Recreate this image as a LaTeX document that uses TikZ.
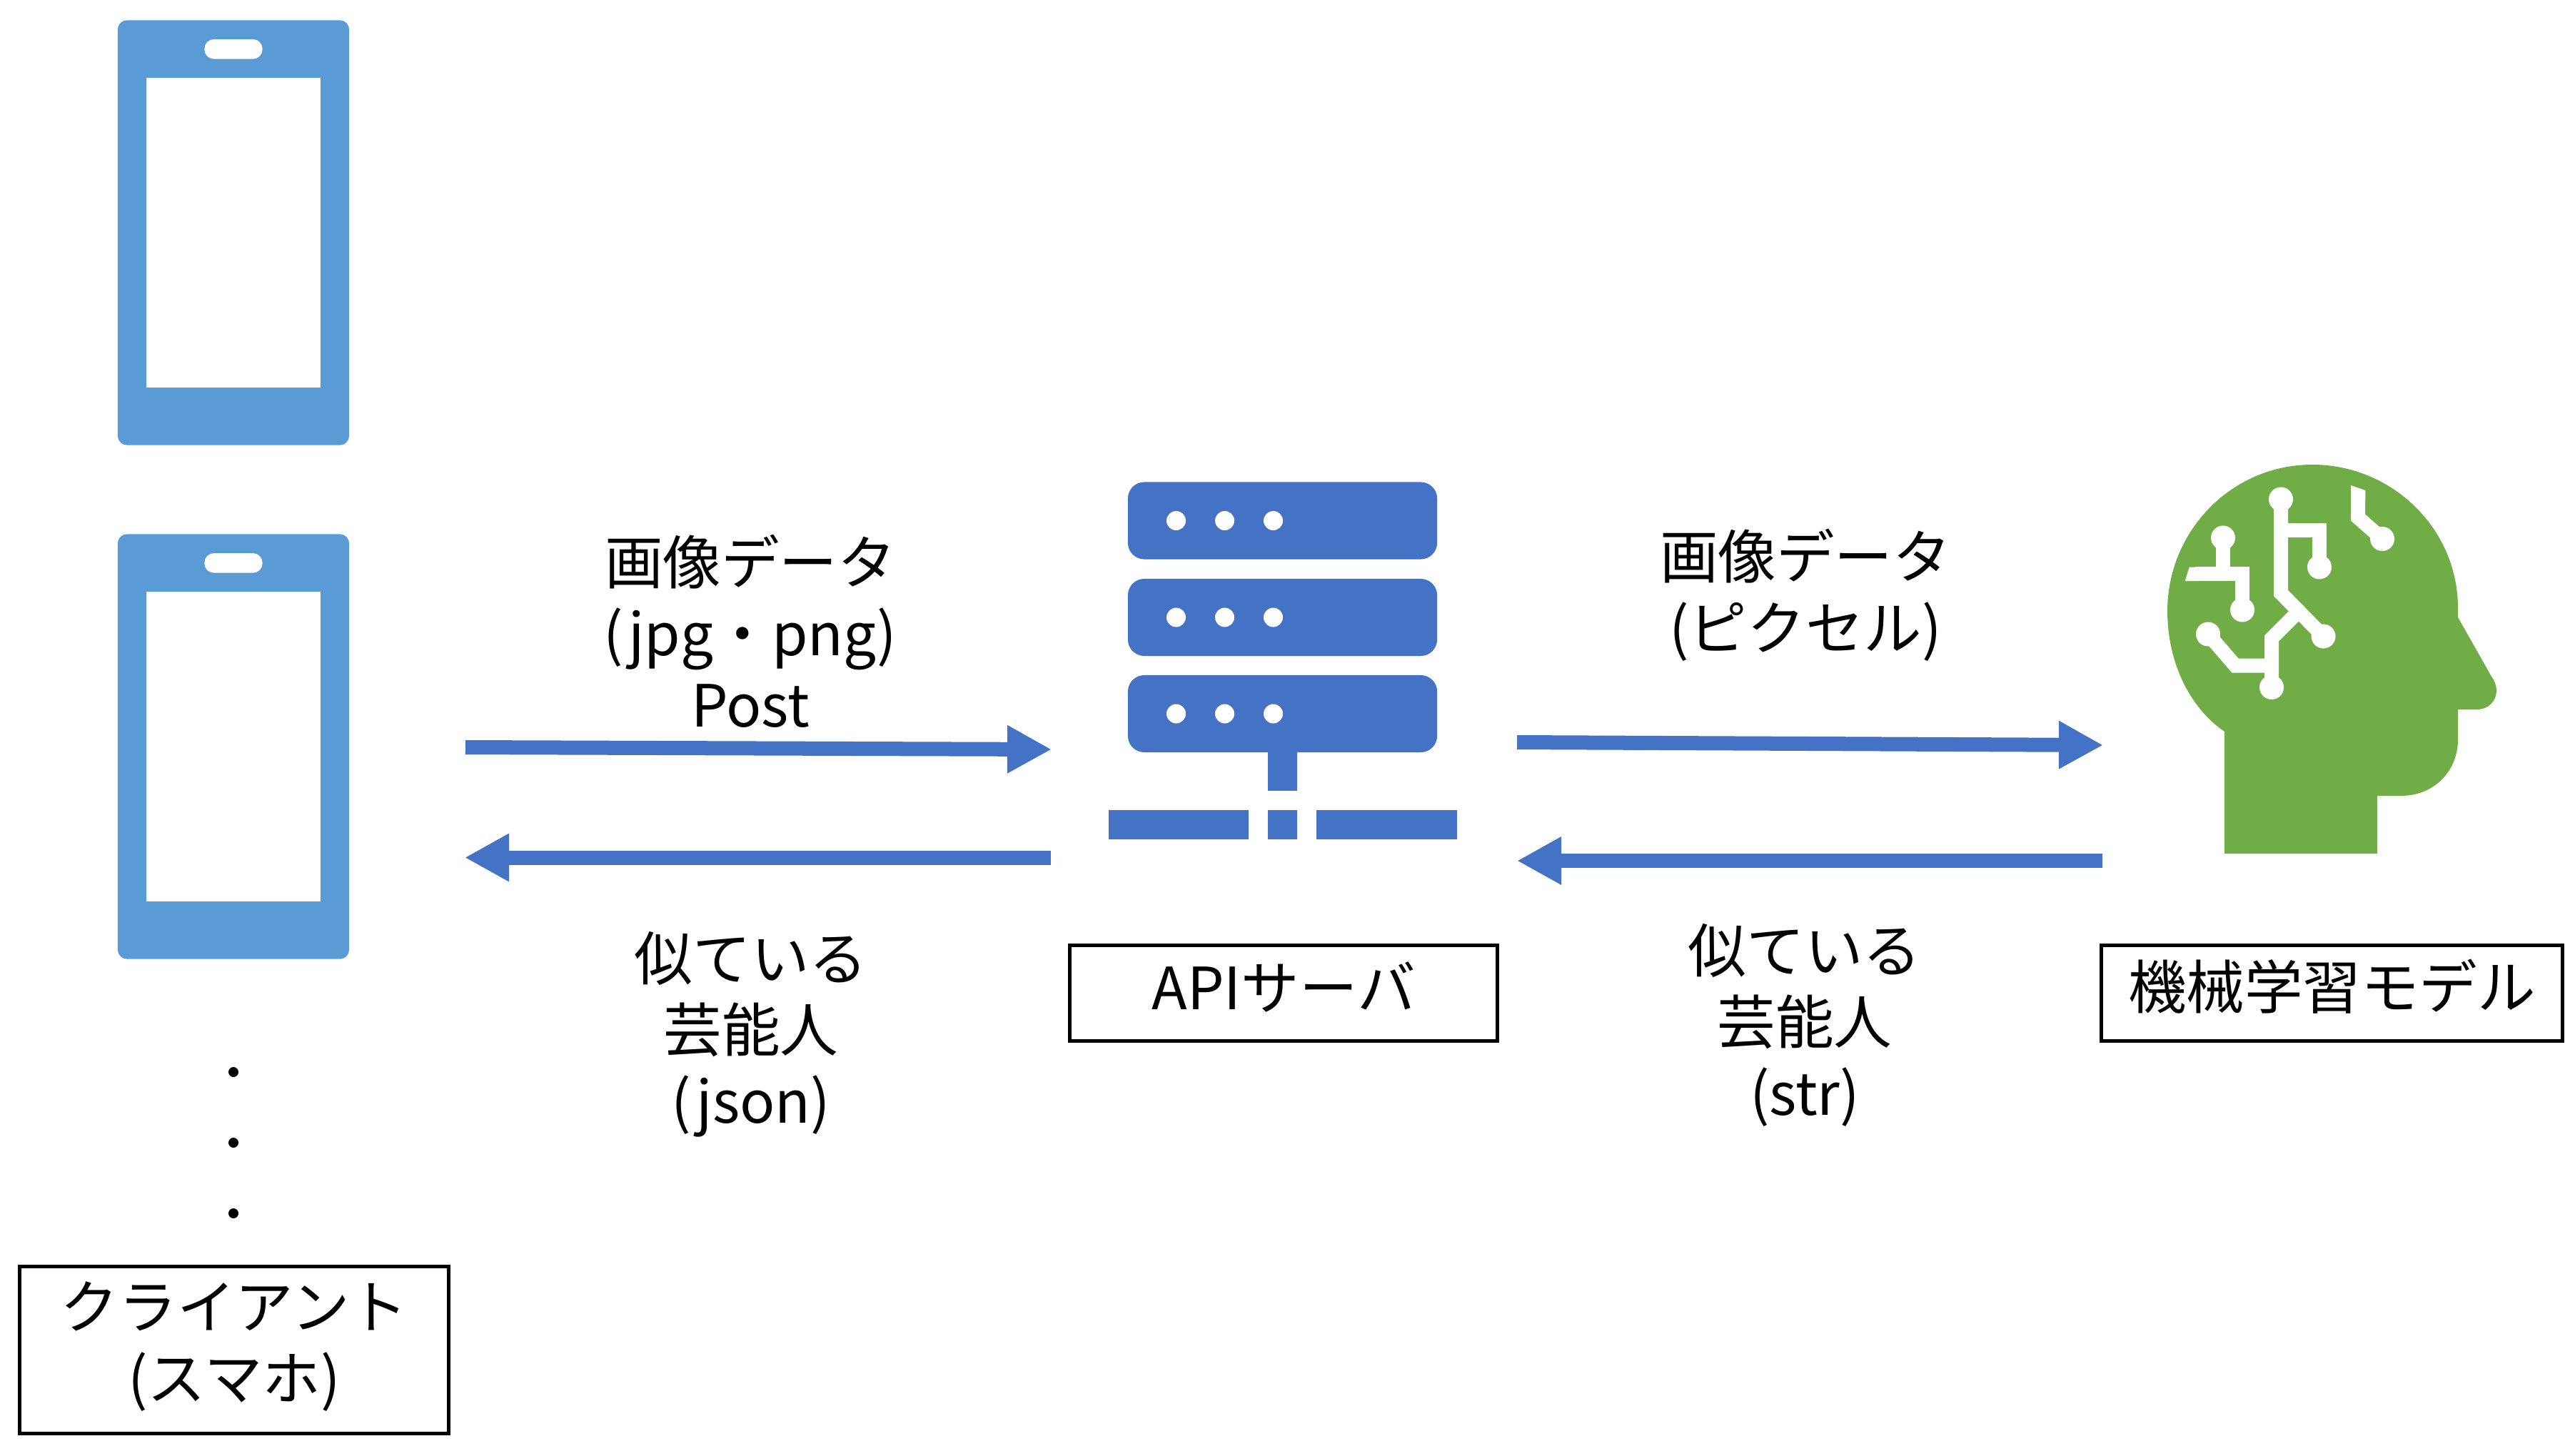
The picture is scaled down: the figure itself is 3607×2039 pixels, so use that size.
\documentclass[tikz,border=0pt]{standalone}
\usepackage{fontspec}
\setmainfont{Noto Sans CJK JP}
\usetikzlibrary{arrows.meta,positioning}

\definecolor{phoneblue}{HTML}{5B9BD5}
\definecolor{serverblue}{HTML}{4472C4}
\definecolor{headgreen}{HTML}{70AD47}

\tikzset{
  phonebody/.style={rectangle,fill=phoneblue,minimum width=3.24cm,minimum height=5.95cm,rounded corners=.13cm,inner sep=0pt},
  phonescreen/.style={rectangle,fill=white,minimum width=2.44cm,minimum height=4.34cm,inner sep=0pt},
  phoneslot/.style={rectangle,fill=white,minimum width=.81cm,minimum height=.275cm,rounded corners=.13cm,inner sep=0pt},
  rackbar/.style={rectangle,fill=serverblue,minimum width=4.33cm,minimum height=1.08cm,rounded corners=.23cm,inner sep=0pt},
  rackdot/.style={circle,fill=white,minimum size=.27cm,inner sep=0pt},
  netbar/.style={rectangle,fill=serverblue,minimum height=.41cm,inner sep=0pt},
  pad/.style={circle,fill=white,minimum size=.34cm,inner sep=0pt},
  trace/.style={draw=white,line width=.2cm},
  flow/.style={draw=serverblue,line width=.2cm,-{Triangle[length=.62cm,width=.63cm]}},
  namebox/.style={draw=black,line width=.05cm,inner sep=0pt},
  textlabel/.style={inner sep=0pt,align=center,font=\jptext},
  listdot/.style={circle,fill=black,minimum size=.14cm,inner sep=0pt}
}
\newcommand{\jptext}{\fontsize{23.2}{28.45}\selectfont}

\begin{document}
\begin{tikzpicture}[x=.01cm,y=-.01cm]
  \useasboundingbox (0,0) rectangle (3607,2039);

  % clients
  \foreach \n/\y in {1/326,2/1046} {
    \node[phonebody] (phone\n) at (327,\y) {};
    \node[phonescreen] (screen\n) at (phone\n.center) {};
    \node[phoneslot] (slot\n) at ([yshift=2.57cm]phone\n.center) {};
  }
  \foreach \n/\y in {1/1502,2/1601,3/1700}
    \node[listdot] (more\n) at (327,\y) {};
  \node[namebox,minimum width=6cm,minimum height=2.33cm] (client) at (328,1891.5) {};
  \node[textlabel] (clientlabel) at ([yshift=.05cm]client.center) {クライアント\\(スマホ)};

  % server
  \foreach \n/\y in {1/729.5,2/865,3/1000} {
    \node[rackbar] (rack\n) at (1796.5,\y) {};
    \foreach \m/\x in {1/1647.5,2/1715.5,3/1783.5}
      \node[rackdot] (dot\n\m) at (\x,\y) {};
  }
  \node[netbar,minimum width=.41cm,minimum height=.54cm] (stem) at (1796.5,1081) {};
  \node[netbar,minimum width=1.96cm] (netleft) at (1651,1155.5) {};
  \node[netbar,minimum width=.41cm] (netmid) at (1796.5,1155.5) {};
  \node[netbar,minimum width=1.97cm] (netright) at (1942.5,1155.5) {};
  \node[namebox,minimum width=5.99cm,minimum height=1.34cm] (server) at (1798,1391.5) {};
  \node[textlabel] (serverlabel) at ([yshift=.09cm]server.center) {APIサーバ};

  % model
  \fill[headgreen] (3116,1196) -- (3330,1196) -- (3330,1115) -- (3363,1115)
    .. controls (3410,1115) and (3443,1080) .. (3443,1036) -- (3443,994) -- (3470,994)
    .. controls (3492,994) and (3506,970) .. (3490,948) -- (3443,865) -- (3443,852)
    .. controls (3443,740) and (3350,651) .. (3239,651)
    .. controls (3125,651) and (3036,745) .. (3036,856)
    .. controls (3036,925) and (3065,990) .. (3116,1025) -- cycle;
  \node[pad] (padA) at (3114,753.5) {};
  \node[pad] (padB) at (3141,854.5) {};
  \node[pad] (padC) at (3195,699.5) {};
  \node[pad] (padD) at (3249,794.5) {};
  \node[pad] (padE) at (3254.5,891.5) {};
  \node[pad] (padF) at (3182,963) {};
  \node[pad] (padG) at (3093,888.5) {};
  \node[pad] (padH) at (3337,755) {};
  \fill[white] (3066.7,794.5) -- (3060.7,814) -- (3080,814) -- (3080,794.5) -- cycle;
  \fill[white] (3293,680) -- (3313.3,687) -- (3313.3,700) -- (3293,700) -- cycle;
  \draw[trace] (3075,804) -- (3141,804) -- (padB.center);
  \draw[trace] (padA.center) -- (3114,804);
  \draw[trace] (padC.center) -- (3195,831) -- (padE.center);
  \draw[trace] (3195,743) -- (3249,743) -- (padD.center);
  \draw[trace] (3213,863.5) -- (3182,894.5) -- (padF.center);
  \draw[trace] (3182,932.5) -- (3131,932.5) -- (padG.center);
  \draw[trace] (3303,695) -- (3303,725) -- (padH.center);
  \node[namebox,minimum width=6.46cm,minimum height=1.34cm] (model) at (3266.5,1391.5) {};
  \node[textlabel] (modellabel) at ([yshift=.09cm]model.center) {機械学習モデル};

  % flows
  \coordinate (postfrom) at (652,1047);
  \coordinate (postto) at (1473,1050);
  \coordinate (jsonfrom) at (1472,1201.5);
  \coordinate (jsonto) at (651,1201.5);
  \coordinate (pixfrom) at (2125,1040);
  \coordinate (pixto) at (2946,1044);
  \coordinate (strfrom) at (2945,1206);
  \coordinate (strto) at (2125,1206);
  \draw[flow] (postfrom) -- (postto);
  \draw[flow] (jsonfrom) -- (jsonto);
  \draw[flow] (pixfrom) -- (pixto);
  \draw[flow] (strfrom) -- (strto);

  \node[textlabel] (postlabel) at (1051,884.5) {画像データ\\(jpg・png)\\Post};
  \node[textlabel] (jsonlabel) at (1052,1449) {似ている\\芸能人\\(json)};
  \node[textlabel] (pixlabel) at (2529,834) {画像データ\\(ピクセル)};
  \node[textlabel] (strlabel) at (2528,1436) {似ている\\芸能人\\(str)};
\end{tikzpicture}
\end{document}
